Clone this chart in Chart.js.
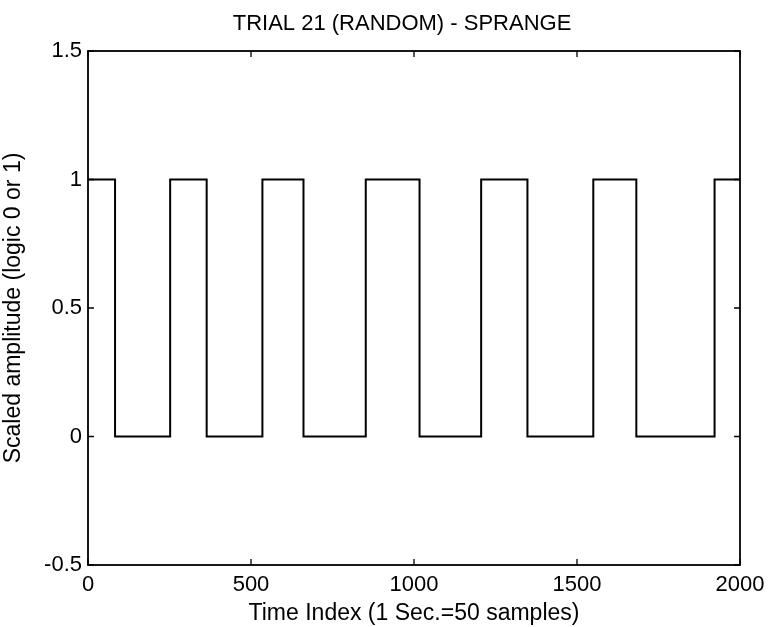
<!DOCTYPE html>
<html>
<head>
<meta charset="utf-8">
<script src="https://cdn.jsdelivr.net/npm/chart.js@4.4.0/dist/chart.umd.min.js"></script>
<style>
    html, body { margin: 0; padding: 0; background: #ffffff; }
</style>
</head>
<body>
<canvas id="myChart" width="773" height="627"></canvas>
<script>
// switching instants (time index) and the logic level reached at each one
const switchTimes = [0, 83, 252, 364, 535, 661, 852, 1017, 1206, 1348, 1550, 1682, 1922, 2000];
const logicLevels = [1, 0, 1, 0, 1, 0, 1, 0, 1, 0, 1, 0, 1, 1];

const xTicks = [0, 500, 1000, 1500, 2000];
const yTicks = [-0.5, 0, 0.5, 1, 1.5];

const chartTitle = 'TRIAL 21 (RANDOM) - SPRANGE';
const xLabel = 'Time Index (1 Sec.=50 samples)';
const yLabel = 'Scaled amplitude (logic 0 or 1)';

const sansFont = "'Liberation Sans', Arial, sans-serif";

// matlab style box with ticks pointing inwards, plus the title
const boxPlugin = {
    id: 'boxTicks',
    afterDatasetsDraw(chart) {
        const ctx = chart.ctx;
        const area = chart.chartArea;
        const xs = chart.scales.x;
        const ys = chart.scales.y;
        const len = 6;
        ctx.save();
        ctx.strokeStyle = '#000';
        ctx.lineWidth = 1.8;
        ctx.strokeRect(area.left, area.top, area.right - area.left, area.bottom - area.top);
        ctx.lineWidth = 1.3;
        ctx.beginPath();
        xTicks.forEach(v => {
            const px = xs.getPixelForValue(v);
            ctx.moveTo(px, area.bottom);
            ctx.lineTo(px, area.bottom - len);
            ctx.moveTo(px, area.top);
            ctx.lineTo(px, area.top + len);
        });
        yTicks.forEach(v => {
            const py = ys.getPixelForValue(v);
            ctx.moveTo(area.left, py);
            ctx.lineTo(area.left + len, py);
            ctx.moveTo(area.right, py);
            ctx.lineTo(area.right - len, py);
        });
        ctx.stroke();

        // title, a bit left of the axes centre like in the scan
        ctx.fillStyle = '#000';
        ctx.font = '22px ' + sansFont;
        ctx.textAlign = 'center';
        ctx.textBaseline = 'middle';
        ctx.fillText(chartTitle, (area.left + area.right) / 2 - 12, 24);
        ctx.restore();
    }
};

const points = switchTimes.map((t, i) => ({ x: t, y: logicLevels[i] }));

const ctx = document.getElementById('myChart').getContext('2d');
const myChart = new Chart(ctx, {
    type: 'line',
    data: {
        datasets: [{
            label: 'logic',
            data: points,
            borderColor: '#000',
            borderWidth: 2,
            fill: false,
            stepped: true,
            pointRadius: 0,
            pointHoverRadius: 0
        }]
    },
    options: {
        responsive: false,
        animation: false,
        layout: {
            padding: { left: 0, right: 33, top: 51, bottom: 0 }
        },
        plugins: {
            legend: { display: false },
            tooltip: { enabled: false },
            title: { display: false }
        },
        scales: {
            x: {
                type: 'linear',
                min: 0,
                max: 2000,
                afterBuildTicks: (scale) => { scale.ticks = xTicks.map(v => ({ value: v })); },
                afterFit: (scale) => { scale.height = 62; },
                grid: { display: false, drawTicks: false },
                border: { display: false },
                ticks: {
                    color: '#000',
                    padding: 7,
                    maxRotation: 0,
                    font: { family: sansFont, size: 22 },
                    callback: (v) => String(v)
                },
                title: {
                    display: true,
                    text: xLabel,
                    color: '#000',
                    font: { family: sansFont, size: 23 },
                    padding: { top: 0, bottom: 0 }
                }
            },
            y: {
                type: 'linear',
                min: -0.5,
                max: 1.5,
                afterBuildTicks: (scale) => { scale.ticks = yTicks.map(v => ({ value: v })); },
                afterFit: (scale) => { scale.width = 88; },
                grid: { display: false, drawTicks: false },
                border: { display: false },
                ticks: {
                    color: '#000',
                    padding: 6,
                    font: { family: sansFont, size: 22 },
                    callback: (v) => String(v)
                },
                title: {
                    display: true,
                    text: yLabel,
                    color: '#000',
                    font: { family: sansFont, size: 23 },
                    padding: { top: 0, bottom: 0 }
                }
            }
        }
    },
    plugins: [boxPlugin]
});
</script>
</body>
</html>
